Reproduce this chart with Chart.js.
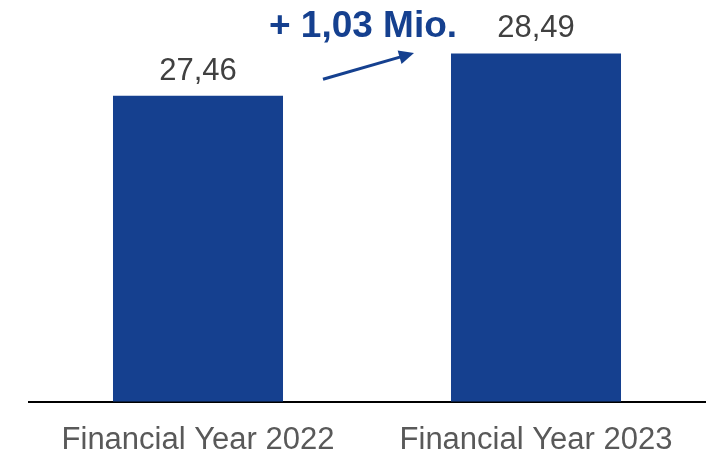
<!DOCTYPE html>
<html>
<head>
<meta charset="utf-8">
<script src="https://cdn.jsdelivr.net/npm/chart.js@4/dist/chart.umd.min.js"></script>
<style>
html,body{margin:0;padding:0;background:#fff;}
#wrap{width:715px;height:454px;position:relative;}
</style>
</head>
<body>
<div id="wrap"><canvas id="c"></canvas></div>
<script>
const categories = ["Financial Year 2022", "Financial Year 2023"];
const values = [27.46, 28.49];
const unitLabel = "Mio.";

const BLUE = "#15408F";
const fmt = v => v.toFixed(2).replace(".", ",");

const labelsPlugin = {
  id: "labels",
  afterDatasetsDraw(chart) {
    const ctx = chart.ctx;
    const meta = chart.getDatasetMeta(0);
    ctx.save();
    ctx.font = "31px 'Liberation Sans', Arial, sans-serif";
    ctx.fillStyle = "#404040";
    ctx.textAlign = "center";
    ctx.textBaseline = "alphabetic";
    meta.data.forEach((bar, i) => {
      ctx.fillText(fmt(values[i]), bar.x, bar.y - 16);
    });
    // annotation: difference arrow
    const x = chart.scales.x, y = chart.scales.y;
    const mid = (x.getPixelForValue(0) + x.getPixelForValue(1)) / 2;
    const x0 = mid - 44, y0 = y.getPixelForValue(27.86);
    const x1 = mid + 47, y1 = y.getPixelForValue(28.50);
    const ang = Math.atan2(y1 - y0, x1 - x0);
    ctx.strokeStyle = BLUE;
    ctx.fillStyle = BLUE;
    ctx.lineWidth = 3;
    ctx.beginPath();
    ctx.moveTo(x0, y0);
    ctx.lineTo(x1 - 12 * Math.cos(ang), y1 - 12 * Math.sin(ang));
    ctx.stroke();
    ctx.beginPath();
    const L = 15, W = 7;
    const bx = x1 - L * Math.cos(ang), by = y1 - L * Math.sin(ang);
    ctx.moveTo(x1, y1);
    ctx.lineTo(bx + W * Math.sin(ang), by - W * Math.cos(ang));
    ctx.lineTo(bx - W * Math.sin(ang), by + W * Math.cos(ang));
    ctx.closePath();
    ctx.fill();
    ctx.font = "bold 37px 'Liberation Sans', Arial, sans-serif";
    ctx.textAlign = "center";
    ctx.fillText("+ " + fmt(values[1] - values[0]) + " " + unitLabel, mid - 4, y.getPixelForValue(28.89));
    ctx.restore();
  }
};

new Chart(document.getElementById("c"), {
  type: "bar",
  data: {
    labels: categories,
    datasets: [{
      data: values,
      backgroundColor: BLUE,
      borderWidth: 0,
      categoryPercentage: 1,
      barPercentage: 0.503
    }]
  },
  options: {
    responsive: true,
    maintainAspectRatio: false,
    animation: false,
    devicePixelRatio: 1,
    layout: { padding: { left: 29, right: 10, top: 12, bottom: 0 } },
    plugins: { legend: { display: false }, tooltip: { enabled: false } },
    scales: {
      x: {
        grid: { display: false, drawTicks: false },
        border: { display: true, color: "#000", width: 2 },
        ticks: {
          color: "#595959",
          font: { family: "'Liberation Sans', Arial, sans-serif", size: 31 },
          padding: 20,
          maxRotation: 0
        },
        afterFit(scale) { scale.height = 52.5; }
      },
      y: {
        display: false,
        min: 20,
        max: 29.5
      }
    }
  },
  plugins: [labelsPlugin]
});
</script>
</body>
</html>
